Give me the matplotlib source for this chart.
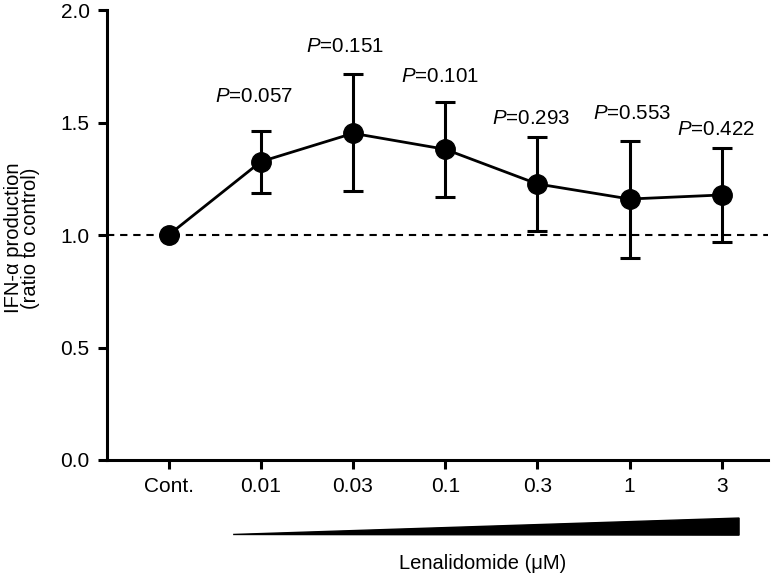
import numpy as np
import matplotlib.pyplot as plt
from matplotlib.patches import Polygon

plt.rcParams['font.family'] = ['Liberation Sans', 'DejaVu Sans']
plt.rcParams['mathtext.fontset'] = 'custom'
plt.rcParams['mathtext.it'] = 'Liberation Sans:italic'
plt.rcParams['mathtext.rm'] = 'Liberation Sans'

# Data
doses = ["Cont.", "0.01", "0.03", "0.1", "0.3", "1", "3"]
ratio = [1.00, 1.326, 1.452, 1.381, 1.227, 1.160, 1.178]
err_hi = [1.00, 1.464, 1.716, 1.593, 1.434, 1.418, 1.388]
err_lo = [1.00, 1.185, 1.197, 1.170, 1.019, 0.898, 0.968]
p_labels = [None, "0.057", "0.151", "0.101", "0.293", "0.553", "0.422"]

# offsets (points) of the P labels from the upper caps
p_dx = [0, -5, -5.5, -3.5, -4.5, 1.5, -4.5]
p_dy = [0, 18, 13, 11, 7, 13, 6]

x = np.arange(len(doses))
y = np.array(ratio)
yerr = np.vstack([y - np.array(err_lo), np.array(err_hi) - y])

fig = plt.figure(figsize=(7.84, 5.76), dpi=100)
ax = fig.add_axes([0.1365, 0.2014, 0.843, 0.7812])

ax.axhline(1.0, color='black', lw=1.5, ls=(0, (3.5, 2.8)), zorder=1)
ax.errorbar(x, y, yerr=yerr, fmt='-o', color='black', lw=2.0,
            elinewidth=2.2, capsize=7.5, capthick=2.2, markersize=14, zorder=3)

for xi, top, lab, dx, dy in zip(x, err_hi, p_labels, p_dx, p_dy):
    if lab is None:
        continue
    ax.annotate(r"$\it{P}$" + "=" + lab, (xi, top), xytext=(dx, dy),
                textcoords='offset points', ha='center', va='bottom',
                fontsize=14.8)

ax.set_xlim(-0.668, 6.5)
ax.set_ylim(0, 2.0)
ax.set_yticks([0, 0.5, 1.0, 1.5, 2.0])
ax.set_yticklabels(["0.0", "0.5", "1.0", "1.5", "2.0"])
ax.set_xticks(x)
ax.set_xticklabels(doses)
ax.tick_params(axis='both', width=2.2, length=6.5, labelsize=15)
ax.tick_params(axis='y', pad=6)
ax.tick_params(axis='x', pad=6)

for s in ['top', 'right']:
    ax.spines[s].set_visible(False)
for s in ['left', 'bottom']:
    ax.spines[s].set_linewidth(2.2)

fig.text(22 / 784, 1 - 238 / 576, "IFN-α production\n(ratio to control)",
         rotation=90, ha='center', va='center', multialignment='center',
         fontsize=14.5, linespacing=0.9)

# concentration wedge below the tick labels
wedge = Polygon([(x[1] - 0.3, -0.331), (x[-1] + 0.187, -0.258),
                 (x[-1] + 0.187, -0.334)], closed=True, color='black',
                clip_on=False, transform=ax.transData)
ax.add_patch(wedge)
ax.text(3.41, -0.462, "Lenalidomide (μM)", ha='center', va='center',
        fontsize=14.5, transform=ax.transData)

fig.savefig("out.png", dpi=100)
